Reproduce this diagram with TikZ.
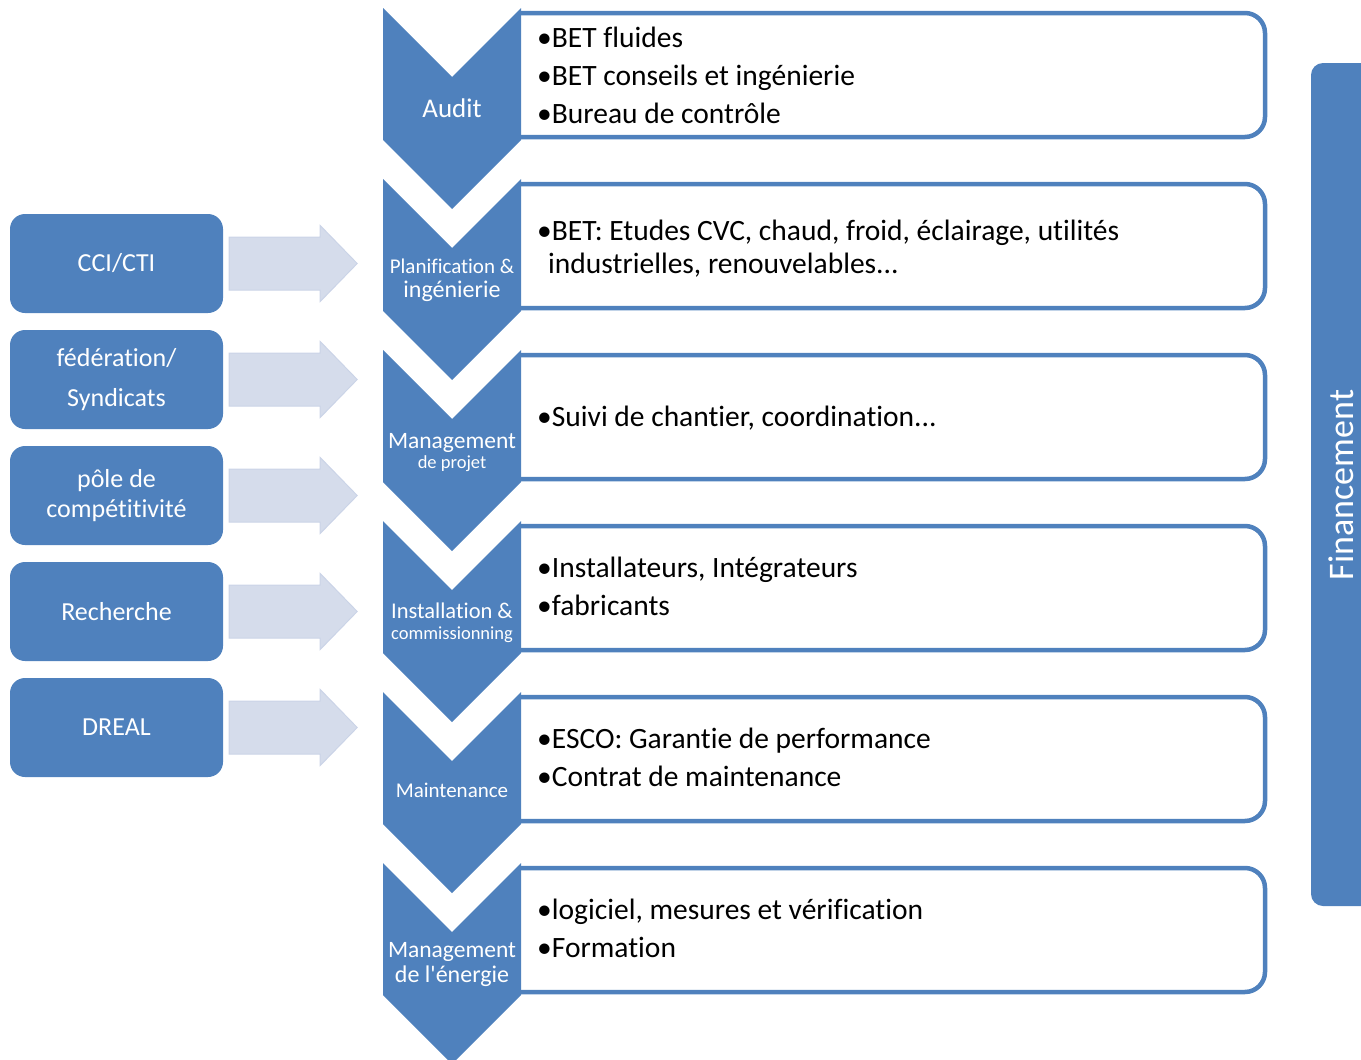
\documentclass[tikz,border=0pt]{standalone}
\usepackage{fontspec}
\setmainfont{Carlito}[Ligatures=NoCommon]
\newfontfamily\cf{Carlito}[Ligatures=NoCommon]
\usetikzlibrary{calc}
\definecolor{obl}{HTML}{4F81BD}
\definecolor{arrfill}{HTML}{D5DCEB}
\definecolor{arrline}{HTML}{CBD4E7}
\newcommand{\fs}[1]{\cf\fontsize{#1}{#1}\selectfont}
\tikzset{
  chev/.style={fill=obl},
  stagebox/.style={draw=obl, line width=4.5pt, fill=white, rounded corners=20pt},
  chevlbl/.style={text=white, inner sep=0pt, anchor=base},
  boxtxt/.style={text=black, inner sep=0pt, anchor=base west, font=\fs{29.5}},
  leftbox/.style={fill=obl, rounded corners=15pt, minimum width=213pt, minimum height=99pt, text=white, align=center, inner sep=0pt},
  sidearrow/.style={fill=arrfill, draw=arrline, line width=1pt},
}
\begin{document}
\begin{tikzpicture}[x=1pt,y=-1pt]
\useasboundingbox (0,0) rectangle (1361,1060);

% right-hand boxes
\foreach \t in {8,179,350,521,692,863}{
  \draw[stagebox] (521,\t+5) -- (1265,\t+5) -- (1265,\t+129) -- (521,\t+129);
}
% chevrons
\foreach \t in {8,179,350,521,692,863}{
  \fill[chev] (383,\t) -- (452,\t+69) -- (521,\t) -- (521,\t+132) -- (452,\t+201) -- (383,\t+132) -- cycle;
}

% chevron labels
\node[chevlbl, font=\fs{27}] (c1) at (452,117) {Audit};
\node[chevlbl, font=\fs{21}] (c2a) at (452,273) {Planification \&};
\node[chevlbl, font=\fs{24}] (c2b) at (452,297) {ingénierie};
\node[chevlbl, font=\fs{23.5}] (c3a) at (452,448) {Management};
\node[chevlbl, font=\fs{18.5}] (c3b) at (452,468) {de projet};
\node[chevlbl, font=\fs{22.5}] (c4a) at (452,618) {Installation \&};
\node[chevlbl, font=\fs{18.5}] (c4b) at (452,639) {commissionning};
\node[chevlbl, font=\fs{21}] (c5) at (452,797) {Maintenance};
\node[chevlbl, font=\fs{23.5}] (c6a) at (452,957) {Management};
\node[chevlbl, font=\fs{24}] (c6b) at (452,982) {de l'énergie};

% box texts
\node[boxtxt] (t1a) at (537,47) {•BET fluides};
\node[boxtxt] (t1b) at (537,85) {•BET conseils et ingénierie};
\node[boxtxt] (t1c) at (537,123) {•Bureau de contrôle};
\node[boxtxt] (t2a) at (537,240) {•BET: Etudes CVC, chaud, froid, éclairage, utilités};
\node[boxtxt] (t2b) at (548,273) {industrielles, renouvelables...};
\node[boxtxt] (t3a) at (537,426) {•Suivi de chantier, coordination...};
\node[boxtxt] (t4a) at (537,577) {•Installateurs, Intégrateurs};
\node[boxtxt] (t4b) at (537,615) {•fabricants};
\node[boxtxt] (t5a) at (537,748) {•ESCO: Garantie de performance};
\node[boxtxt] (t5b) at (537,786) {•Contrat de maintenance};
\node[boxtxt] (t6a) at (537,919) {•logiciel, mesures et vérification};
\node[boxtxt] (t6b) at (537,957) {•Formation};

% left boxes
\node[leftbox, font=\cf\fontsize{26}{30}\selectfont] (l1) at (116.5,263.5) {CCI/CTI};
\node[leftbox, font=\cf\fontsize{26}{40}\selectfont] (l2) at (116.5,379.5) {fédération/\\Syndicats};
\node[leftbox, font=\cf\fontsize{26}{30}\selectfont] (l3) at (116.5,495.5) {pôle de\\compétitivité};
\node[leftbox, font=\cf\fontsize{26}{30}\selectfont] (l4) at (116.5,611.5) {Recherche};
\node[leftbox, font=\cf\fontsize{26}{30}\selectfont] (l5) at (116.5,727.5) {DREAL};

% side arrows
\foreach \i in {1,...,5}{
  \draw[sidearrow] ($(l\i.east)+(6,-26.5)$) -- ($(l\i.east)+(97,-26.5)$) -- ($(l\i.east)+(97,-38)$)
     -- ($(l\i.east)+(134,0)$) -- ($(l\i.east)+(97,38)$) -- ($(l\i.east)+(97,26.5)$)
     -- ($(l\i.east)+(6,26.5)$) -- cycle;
}

% financement bar
\fill[obl, rounded corners=12pt] (1380,63) -- (1311,63) -- (1311,906) -- (1380,906) -- cycle;
\node[text=white, inner sep=0pt, rotate=90, anchor=base, font=\fs{36}] (fin) at (1353,485) {Financement};
\end{tikzpicture}
\end{document}
